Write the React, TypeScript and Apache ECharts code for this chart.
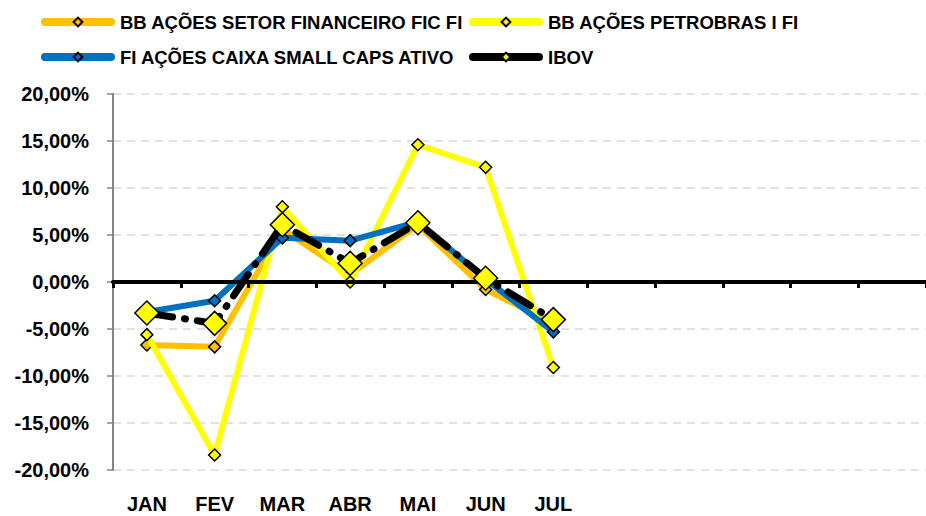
import React, { useEffect, useRef } from "react";
import * as echarts from "echarts";

const months = ["JAN", "FEV", "MAR", "ABR", "MAI", "JUN", "JUL", "", "", "", "", ""];
const setorFinanceiro = [-6.7, -6.9, 5.6, 0.8, 6.1, -0.8, -4.4];
const petrobras = [-5.6, -18.4, 8.0, 0.0, 14.6, 12.2, -9.1];
const smallCaps = [-3.2, -2.0, 4.7, 4.4, 6.4, 0.3, -5.3];
const ibov = [-3.3, -4.4, 6.1, 2.0, 6.3, 0.4, -4.0];
const names = [
  "BB AÇÕES SETOR FINANCEIRO FIC FI",
  "BB AÇÕES PETROBRAS I FI",
  "FI AÇÕES CAIXA SMALL CAPS ATIVO",
  "IBOV",
];

const FONT = "'Liberation Sans', Arial, sans-serif";

export default function App() {
  const ref = useRef<HTMLDivElement>(null);
  useEffect(() => {
    if (!ref.current) return;
    const chart = echarts.init(ref.current, undefined, { renderer: "svg" });
    const legendText = {
      fontFamily: FONT,
      fontWeight: "bold",
      fontSize: 18.5,
      color: "#000",
      lineHeight: 20,
      padding: [0, 0, 0, 4],
    };
    const mkLegend = (name: string, left: number, top: number) => ({
      data: [name],
      left,
      top,
      itemWidth: 66,
      itemHeight: 11,
      itemGap: 4,
      textStyle: legendText,
      lineStyle: { width: 8, cap: "round", type: "solid" },
      padding: 0,
    });
    const lineSeries = (
      name: string,
      data: number[],
      color: string,
      markerColor: string,
      z: number
    ) => ({
      name,
      type: "line",
      data,
      xAxisIndex: 0,
      z,
      symbol: "diamond",
      symbolSize: 12,
      lineStyle: { color, width: 6 },
      itemStyle: { color: markerColor, borderColor: "#000", borderWidth: 1.5 },
    });
    chart.setOption({
      animation: false,
      backgroundColor: "#fff",
      legend: [
        mkLegend(names[0], 41, 12),
        mkLegend(names[1], 469, 12),
        mkLegend(names[2], 41, 47),
        mkLegend(names[3], 469, 47),
      ],
      grid: { left: 113, right: 0, top: 94, bottom: 46, containLabel: false },
      xAxis: [
        {
          type: "category",
          data: months,
          boundaryGap: true,
          axisLine: { onZero: true, lineStyle: { color: "#000", width: 4 } },
          axisTick: { show: true, length: 6, lineStyle: { color: "#000", width: 3 } },
          axisLabel: { show: false },
          splitLine: { show: false },
          z: 5,
        },
        {
          type: "category",
          data: months,
          position: "bottom",
          boundaryGap: true,
          axisLine: { show: false, onZero: false },
          axisTick: { show: false },
          axisLabel: {
            fontFamily: FONT,
            fontWeight: "bold",
            fontSize: 20,
            lineHeight: 20,
            color: "#000",
            margin: 24,
            interval: 0,
          },
          splitLine: { show: false },
        },
      ],
      yAxis: {
        type: "value",
        min: -20,
        max: 20,
        interval: 5,
        axisLine: { show: true, lineStyle: { color: "#868686", width: 2 } },
        axisTick: { show: true, length: 6, lineStyle: { color: "#868686", width: 1.5 } },
        axisLabel: {
          fontFamily: FONT,
          fontWeight: "bold",
          fontSize: 20,
          color: "#000",
          margin: 24,
          formatter: (v: number) => v.toFixed(2).replace(".", ",") + "%",
        },
        splitLine: { show: true, lineStyle: { color: "#d9d9d9", width: 1.5, type: [8, 6] } },
      },
      series: [
        lineSeries(names[0], setorFinanceiro, "#FFC000", "#FFC000", 2),
        lineSeries(names[1], petrobras, "#FFFF00", "#FFFF00", 3),
        lineSeries(names[2], smallCaps, "#0070C0", "#0070C0", 4),
        {
          name: names[3],
          type: "line",
          data: ibov,
          xAxisIndex: 0,
          z: 6,
          symbol: "diamond",
          symbolSize: 24,
          lineStyle: { color: "#000", width: 7, type: [26, 12, 1, 12], cap: "round" },
          itemStyle: { color: "#FFFF00", borderColor: "#000", borderWidth: 1.5 },
        },
      ],
    });
    return () => chart.dispose();
  }, []);
  return <div ref={ref} style={{ width: 926, height: 516, position: "absolute", left: 0, top: 0 }} />;
}
